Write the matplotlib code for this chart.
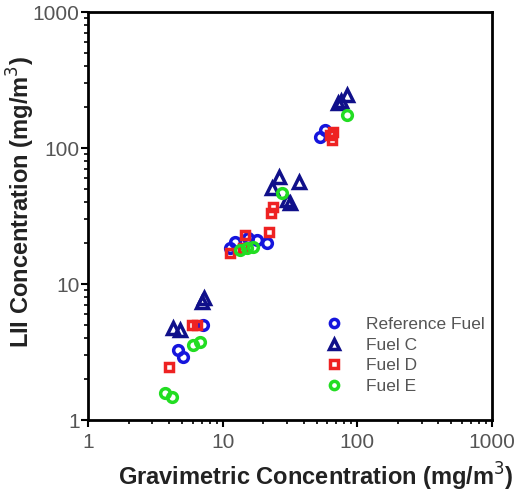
import numpy as np
import matplotlib.pyplot as plt
from matplotlib.ticker import LogLocator, FixedLocator, NullFormatter

plt.rcParams['font.family'] = ['Liberation Sans', 'DejaVu Sans']

# Gravimetric (x) vs LII (y) soot concentration, mg/m^3
ref_grav = [4.66, 5.07, 7.1, 11.3, 12.3, 15.4, 17.9, 21.3, 52.8, 57.5]
ref_lii = [3.27, 2.9, 5.0, 18.4, 20.3, 21.8, 21.0, 20.0, 120, 136]

fuel_c_grav = [4.28, 4.8, 7.0, 7.25, 23.3, 26.2, 30.0, 31.6, 36.9, 72, 76, 83.7]
fuel_c_lii = [4.74, 4.6, 7.4, 7.9, 50.9, 61, 41.5, 39.4, 56, 214, 220, 245]

fuel_d_grav = [4.0, 5.9, 6.5, 11.3, 14.1, 14.6, 22.0, 22.8, 23.6, 62.9, 66, 65]
fuel_d_lii = [2.45, 5.0, 5.0, 16.9, 18.4, 22.9, 24.0, 33, 36.7, 124, 131, 114]

fuel_e_grav = [3.73, 4.2, 6.0, 6.8, 13.4, 15.1, 16.8, 27.6, 83.7]
fuel_e_lii = [1.58, 1.48, 3.56, 3.74, 17.8, 18.4, 18.7, 46.6, 175]

tick_vals = [1, 10, 100, 1000]

fig = plt.figure(figsize=(5.27, 4.97), dpi=100)
ax = fig.add_axes([88 / 527, 77 / 497, 404 / 527, 408 / 497])

style = dict(linestyle='none', markerfacecolor='none', markeredgewidth=2.5)
ax.plot(ref_grav, ref_lii, marker='o', markersize=7, color='#1515dd',
        label='Reference Fuel', **style)
ax.plot(fuel_c_grav, fuel_c_lii, marker='^', markersize=8, color='#10108a',
        label='Fuel C', **style)
ax.plot(fuel_d_grav, fuel_d_lii, marker='s', markersize=6, color='#ee2222',
        label='Fuel D', **style)
ax.plot(fuel_e_grav, fuel_e_lii, marker='o', markersize=7, color='#22dd22',
        label='Fuel E', **style)

ax.set_xscale('log')
ax.set_yscale('log')
ax.set_xlim(1, 1000)
ax.set_ylim(1, 1000)

for axis in (ax.xaxis, ax.yaxis):
    axis.set_major_locator(FixedLocator(tick_vals))
    axis.set_minor_locator(LogLocator(base=10, subs=np.arange(2, 10)))
    axis.set_minor_formatter(NullFormatter())
ax.set_xticklabels([str(t) for t in tick_vals])
ax.set_yticklabels([str(t) for t in tick_vals])

ax.tick_params(which='major', direction='out', length=5, width=1.5,
               labelsize=15, labelcolor='#555555')
ax.tick_params(which='minor', direction='out', length=3, width=1.2)
ax.tick_params(axis='y', which='major', pad=1)
ax.tick_params(axis='x', which='major', pad=4)
for side in ax.spines.values():
    side.set_linewidth(2)

ax.set_xlabel('Gravimetric Concentration (mg/m$^3$)', fontsize=17,
              fontweight='bold', color='#222222')
ax.set_ylabel('LII Concentration (mg/m$^3$)', fontsize=17,
              fontweight='bold', color='#222222')
ax.xaxis.set_label_coords(0.565, -0.1)
ax.yaxis.set_label_coords(-0.125, 0.535)

ax.legend(loc='lower right', bbox_to_anchor=(1.02, 0.025), frameon=False,
          fontsize=12.5, handletextpad=1.3, labelspacing=0.32,
          handlelength=1.0, labelcolor='#555555', markerscale=0.85)

fig.savefig('out.png', dpi=100)
